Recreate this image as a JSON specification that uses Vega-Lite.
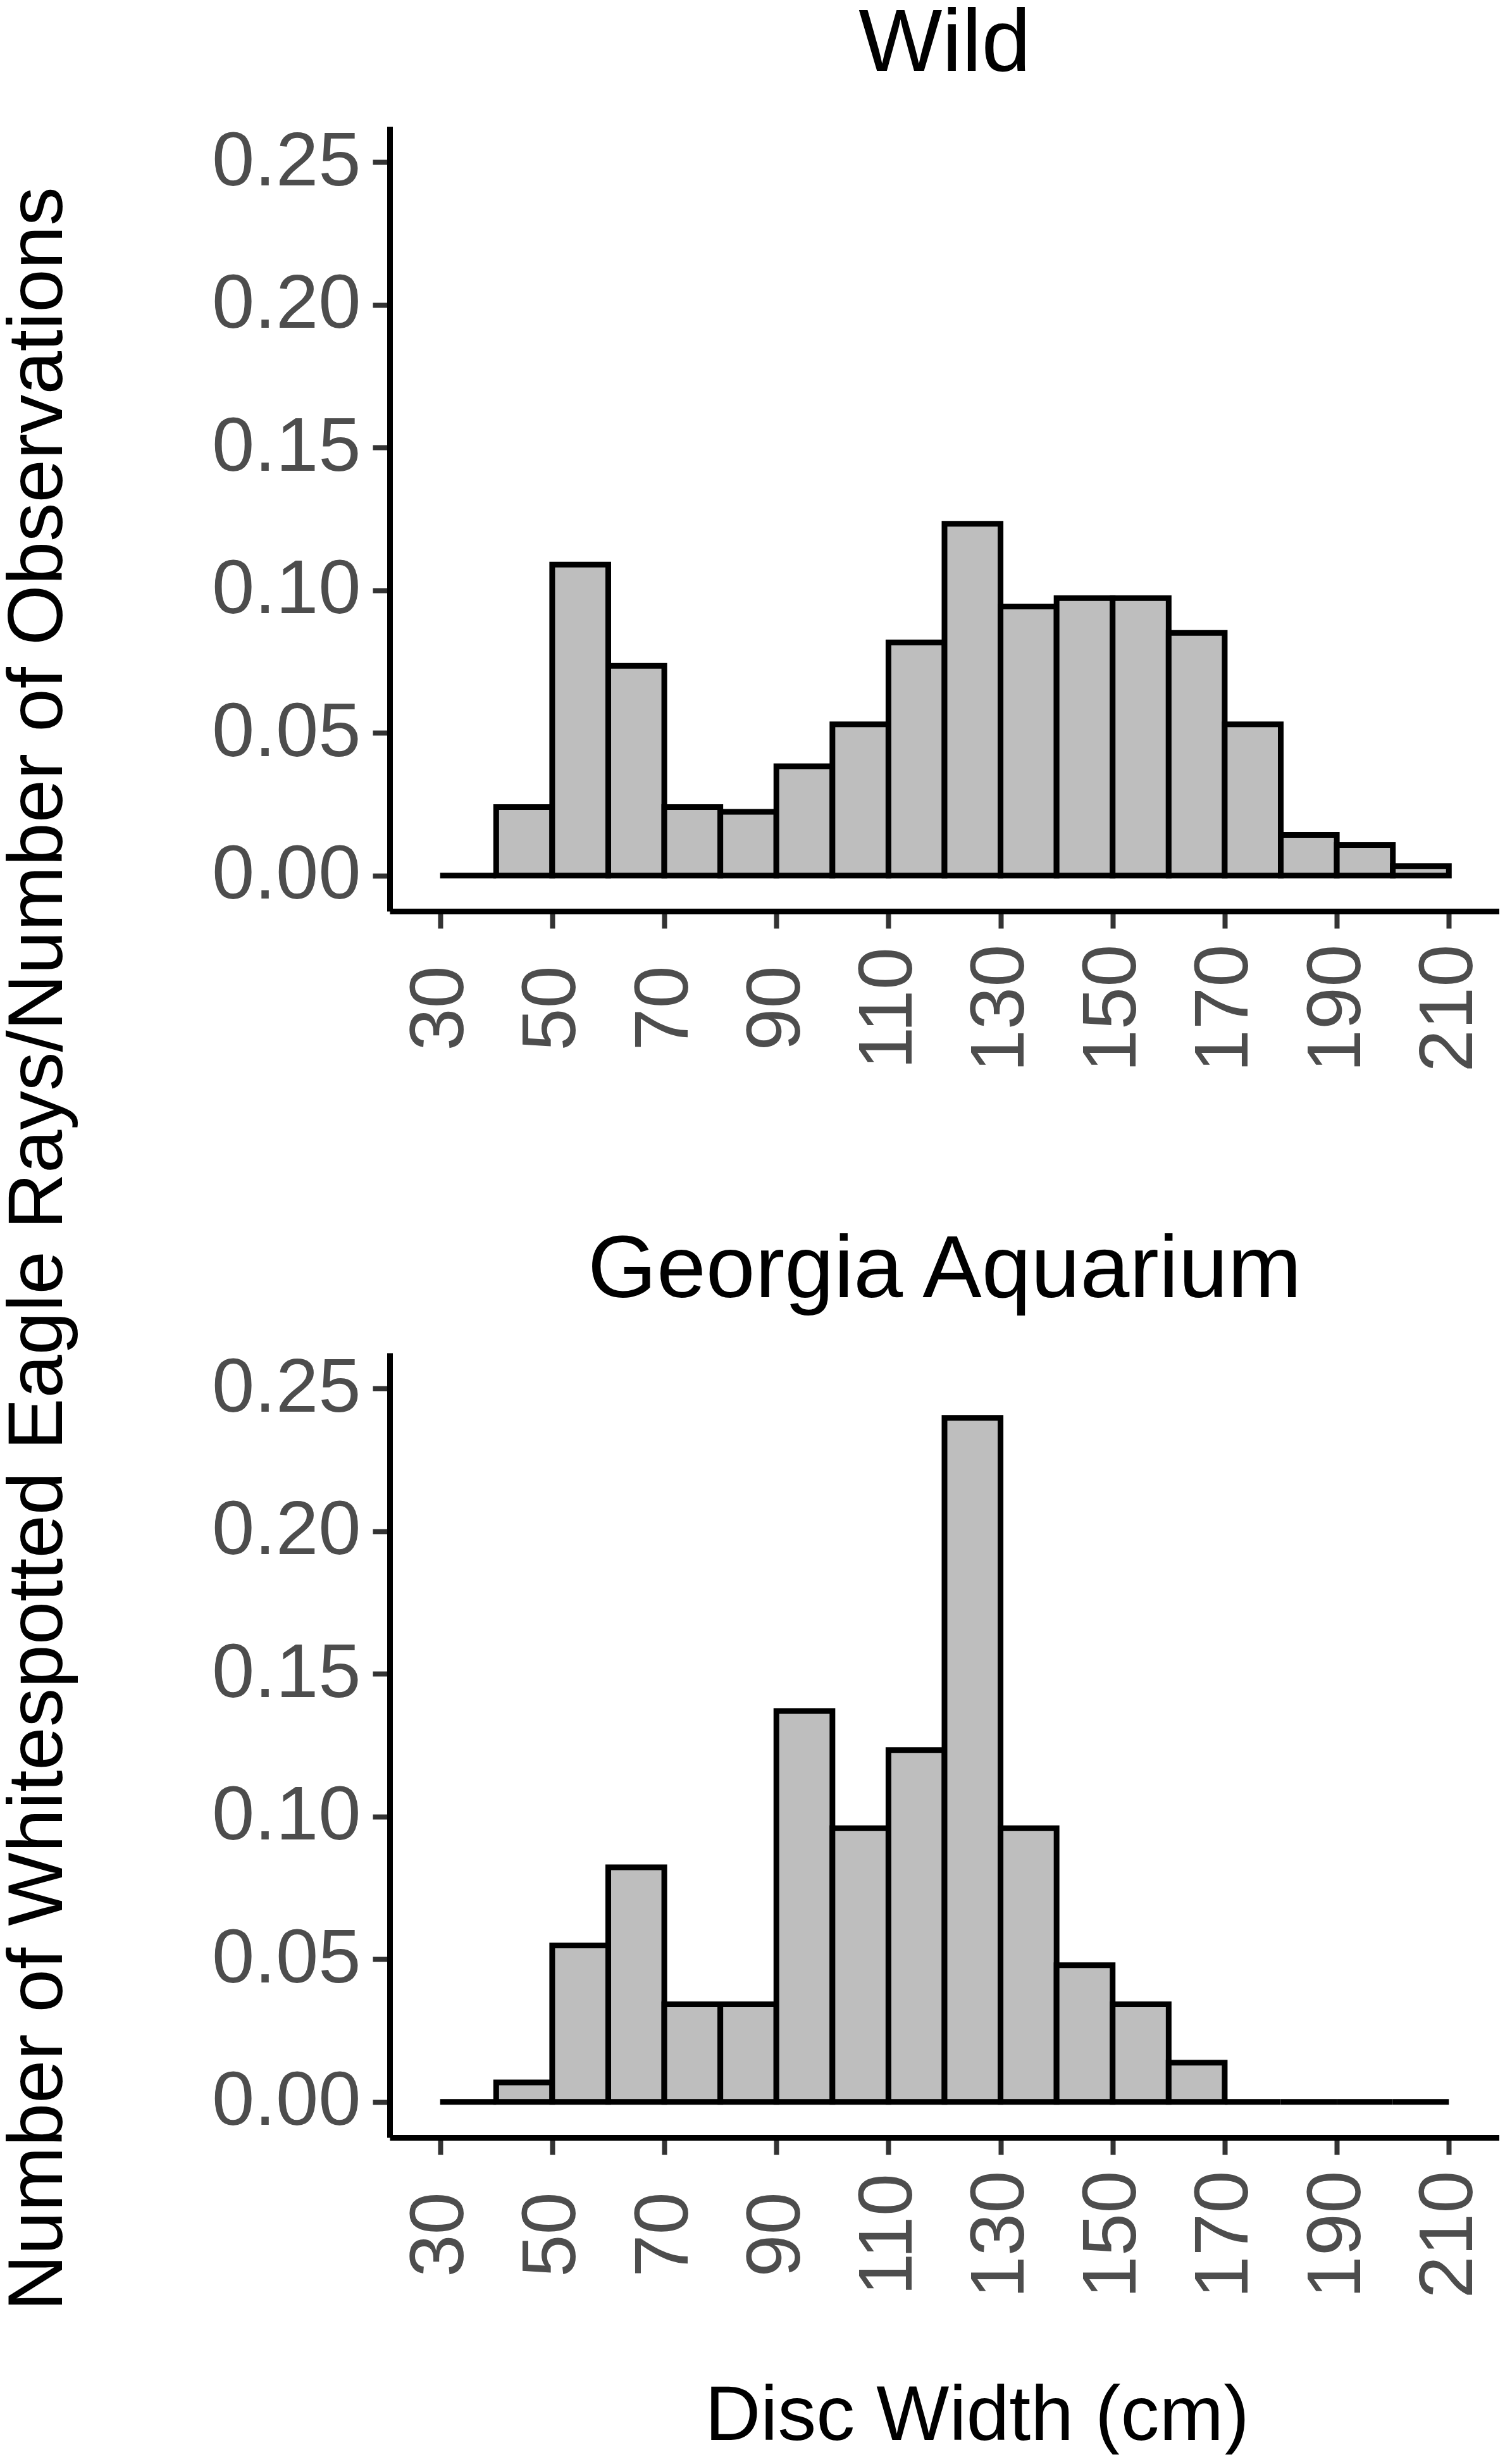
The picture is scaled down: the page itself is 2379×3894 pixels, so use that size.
{
  "$schema": "https://vega.github.io/schema/vega-lite/v6.json",
  "background": "white",
  "padding": {"left": 0, "top": 0, "right": 0, "bottom": 0},
  "title": {"text": "Number of Whitespotted Eagle Rays/Number of Observations", "orient": "left", "anchor": "middle", "frame": "bounds", "fontSize": 123, "fontWeight": "normal", "color": "black", "font": "Liberation Sans", "baseline": "alphabetic", "offset": 113, "dx": -34},
  "config": {
    "view": {"stroke": null},
    "font": "Liberation Sans",
    "axis": {
      "grid": false,
      "domainColor": "black",
      "domainWidth": 9,
      "tickColor": "#333333",
      "tickWidth": 8,
      "tickSize": 27,
      "labelFont": "Liberation Sans",
      "labelFontSize": 121,
      "labelColor": "#4D4D4D",
      "labelLimit": 2000,
      "titleFont": "Liberation Sans",
      "titleFontSize": 122,
      "titleFontWeight": "normal",
      "titleColor": "black"
    }
  },
  "datasets": {
    "wild": [
      {"bin_start": 30, "bin_end": 40, "prop": 0},
      {"bin_start": 40, "bin_end": 50, "prop": 0.024},
      {"bin_start": 50, "bin_end": 60, "prop": 0.109},
      {"bin_start": 60, "bin_end": 70, "prop": 0.0735},
      {"bin_start": 70, "bin_end": 80, "prop": 0.024},
      {"bin_start": 80, "bin_end": 90, "prop": 0.0223},
      {"bin_start": 90, "bin_end": 100, "prop": 0.0383},
      {"bin_start": 100, "bin_end": 110, "prop": 0.053},
      {"bin_start": 110, "bin_end": 120, "prop": 0.0817},
      {"bin_start": 120, "bin_end": 130, "prop": 0.1233},
      {"bin_start": 130, "bin_end": 140, "prop": 0.0943},
      {"bin_start": 140, "bin_end": 150, "prop": 0.0972},
      {"bin_start": 150, "bin_end": 160, "prop": 0.0972},
      {"bin_start": 160, "bin_end": 170, "prop": 0.085},
      {"bin_start": 170, "bin_end": 180, "prop": 0.053},
      {"bin_start": 180, "bin_end": 190, "prop": 0.0142},
      {"bin_start": 190, "bin_end": 200, "prop": 0.0107},
      {"bin_start": 200, "bin_end": 210, "prop": 0.0033}
    ],
    "aquarium": [
      {"bin_start": 30, "bin_end": 40, "prop": 0},
      {"bin_start": 40, "bin_end": 50, "prop": 0.0068},
      {"bin_start": 50, "bin_end": 60, "prop": 0.0548},
      {"bin_start": 60, "bin_end": 70, "prop": 0.0822},
      {"bin_start": 70, "bin_end": 80, "prop": 0.0342},
      {"bin_start": 80, "bin_end": 90, "prop": 0.0342},
      {"bin_start": 90, "bin_end": 100, "prop": 0.137},
      {"bin_start": 100, "bin_end": 110, "prop": 0.0959},
      {"bin_start": 110, "bin_end": 120, "prop": 0.1233},
      {"bin_start": 120, "bin_end": 130, "prop": 0.2397},
      {"bin_start": 130, "bin_end": 140, "prop": 0.0959},
      {"bin_start": 140, "bin_end": 150, "prop": 0.0479},
      {"bin_start": 150, "bin_end": 160, "prop": 0.0342},
      {"bin_start": 160, "bin_end": 170, "prop": 0.0137},
      {"bin_start": 170, "bin_end": 180, "prop": 0},
      {"bin_start": 180, "bin_end": 190, "prop": 0},
      {"bin_start": 190, "bin_end": 200, "prop": 0},
      {"bin_start": 200, "bin_end": 210, "prop": 0}
    ]
  },
  "spacing": 698,
  "bounds": "flush",
  "vconcat": [
    {
      "width": 1754,
      "height": 1240,
      "title": {"text": "Wild", "fontSize": 140, "fontWeight": "normal", "color": "black", "font": "Liberation Sans", "anchor": "middle", "frame": "bounds", "baseline": "alphabetic", "offset": -57, "dx": 141},
      "data": {"name": "wild"},
      "mark": {"type": "rect", "fill": "#BEBEBE", "stroke": "black", "strokeWidth": 9},
      "encoding": {
        "x": {
          "field": "bin_start", "type": "quantitative",
          "scale": {"domain": [21, 219], "nice": false, "zero": false},
          "axis": {"values": [30, 50, 70, 90, 110, 130, 150, 170, 190, 210], "title": null, "labelAngle": -90, "labelAlign": "center", "labelBaseline": "middle", "labelPadding": 126, "labelFlush": false, "labelOverlap": false}
        },
        "x2": {"field": "bin_end"},
        "y": {
          "field": "prop", "type": "quantitative",
          "scale": {"domain": [-0.0125, 0.2625], "nice": false, "zero": false},
          "axis": {"values": [0, 0.05, 0.1, 0.15, 0.2, 0.25], "format": ".2f", "title": null, "labelPadding": 19, "labelOverlap": false}
        },
        "y2": {"datum": 0}
      }
    },
    {
      "width": 1754,
      "height": 1240,
      "title": {"text": "Georgia Aquarium", "fontSize": 140, "fontWeight": "normal", "color": "black", "font": "Liberation Sans", "anchor": "middle", "frame": "bounds", "baseline": "alphabetic", "offset": -57, "dx": 141},
      "data": {"name": "aquarium"},
      "mark": {"type": "rect", "fill": "#BEBEBE", "stroke": "black", "strokeWidth": 9},
      "encoding": {
        "x": {
          "field": "bin_start", "type": "quantitative",
          "scale": {"domain": [21, 219], "nice": false, "zero": false},
          "axis": {"values": [30, 50, 70, 90, 110, 130, 150, 170, 190, 210], "title": "Disc Width (cm)", "titleX": 928, "titleY": 477, "titleAlign": "center", "titleBaseline": "alphabetic", "labelAngle": -90, "labelAlign": "center", "labelBaseline": "middle", "labelPadding": 126, "labelFlush": false, "labelOverlap": false}
        },
        "x2": {"field": "bin_end"},
        "y": {
          "field": "prop", "type": "quantitative",
          "scale": {"domain": [-0.0125, 0.2625], "nice": false, "zero": false},
          "axis": {"values": [0, 0.05, 0.1, 0.15, 0.2, 0.25], "format": ".2f", "title": null, "labelPadding": 19, "labelOverlap": false}
        },
        "y2": {"datum": 0}
      }
    }
  ]
}
